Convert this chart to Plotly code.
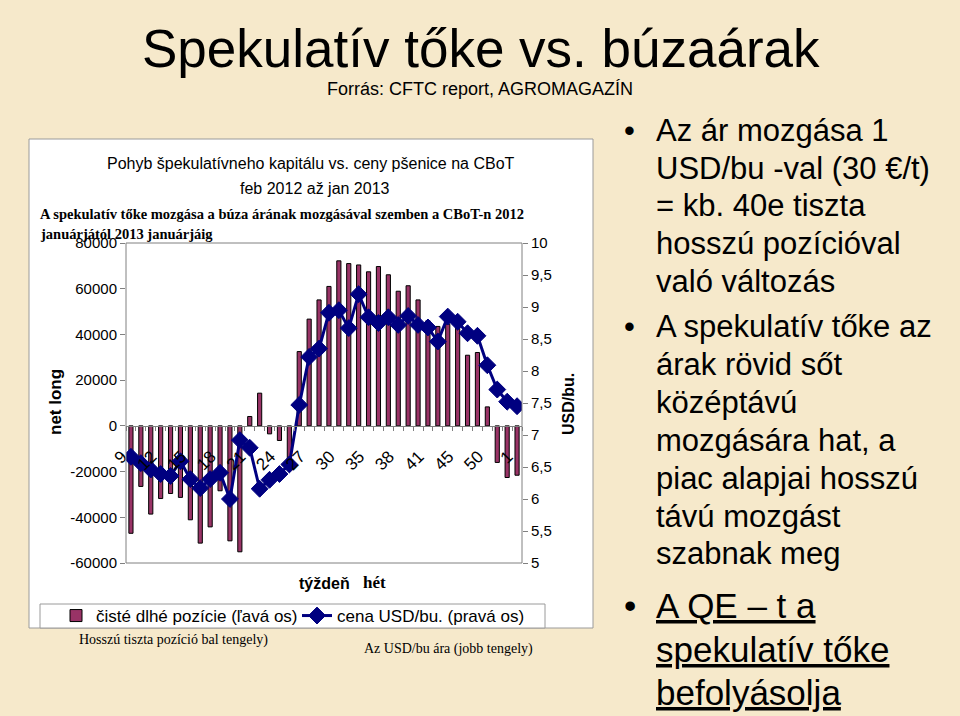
import plotly.graph_objects as go

# ---------------- data ----------------
weeks = ["9", "10", "11", "12", "13", "14", "15", "16", "17", "18", "19", "20",
         "21", "22", "23", "24", "25", "26", "27", "28", "29", "30", "32", "33",
         "35", "36", "37", "38", "39", "40", "41", "43", "44", "45", "48", "49",
         "50", "51", "52", "1"]
shown_week_labels = ["9", "12", "15", "18", "21", "24", "27", "30", "35", "38",
                     "41", "45", "50", "1"]
net_long = [-47000, -26500, -38600, -31800, -29600, -31300, -41100, -51300,
            -44200, -28400, -50300, -55100, 4100, 14300, -3500, -6400, -17000,
            32500, 46700, 55100, 61000, 72200, 71000, 70400, 67400, 69700,
            66100, 58900, 61300, 55100, 46000, 43500, 44500, 43000, 30900,
            32100, 8300, -16000, -22600, -21600]
price = [6.66, 6.56, 6.46, 6.39, 6.36, 6.59, 6.31, 6.17, 6.31, 6.41, 6.00,
         6.92, 6.80, 6.16, 6.30, 6.39, 6.54, 7.47, 8.22, 8.35, 8.91, 8.95,
         8.67, 9.20, 8.84, 8.75, 8.84, 8.72, 8.86, 8.72, 8.68, 8.46, 8.85,
         8.77, 8.59, 8.55, 8.09, 7.71, 7.52, 7.45]
left_ticks = [-60000, -40000, -20000, 0, 20000, 40000, 60000, 80000]
left_tick_text = ["-60000", "-40000", "-20000", "0", "20000", "40000", "60000", "80000"]
right_ticks = [5, 5.5, 6, 6.5, 7, 7.5, 8, 8.5, 9, 9.5, 10]
right_tick_text = ["5", "5,5", "6", "6,5", "7", "7,5", "8", "8,5", "9", "9,5", "10"]

bullets = [
    ["Az ár mozgása 1", "USD/bu -val (30 €/t)", "= kb. 40e tiszta",
     "hosszú pozícióval", "való változás"],
    ["A spekulatív tőke az", "árak rövid sőt", "középtávú",
     "mozgására hat, a", "piac alapjai hosszú", "távú mozgást", "szabnak meg"],
    ["A QE – t a", "spekulatív tőke", "befolyásolja"],
]

# ---------------- layout geometry ----------------
W, H = 960, 716
PL, PR, PT, PB = 126, 522, 243, 563   # plot area in pixels


def px(x):
    return (x - PL) / (PR - PL)


def py(y):
    return (PB - y) / (PB - PT)


SANS = "Liberation Sans, Arial, sans-serif"
SERIF = "Liberation Serif, Times New Roman, serif"

tickvals_x = weeks
ticktext_x = [w if w in shown_week_labels and i % 3 == 0 else "" for i, w in enumerate(weeks)]

fig = go.Figure()
fig.add_trace(go.Bar(
    x=weeks, y=net_long, name="čisté dlhé pozície (ľavá os)",
    marker=dict(color="#993366", line=dict(color="#000000", width=1)),
    yaxis="y",
))
fig.add_trace(go.Scatter(
    x=weeks, y=price, name="cena USD/bu. (pravá os)", mode="lines+markers",
    line=dict(color="#000080", width=3),
    marker=dict(symbol="diamond", size=13, color="#000080",
                line=dict(color="#000080", width=1)),
    yaxis="y2",
))

annotations = []


def add_text(text, x, y, size, font=SANS, xanchor="left", yanchor="middle",
             textangle=0, color="#000000"):
    annotations.append(dict(
        text=text, x=px(x), y=py(y), xref="paper", yref="paper",
        xanchor=xanchor, yanchor=yanchor, showarrow=False, textangle=textangle,
        font=dict(family=font, size=size, color=color),
    ))


# slide title
add_text("Spekulatív tőke vs. búzaárak", 481, 48, 53, xanchor="center")
add_text("Forrás: CFTC report, AGROMAGAZÍN", 480, 89, 18, xanchor="center")

# chart titles
add_text("Pohyb špekulatívneho kapitálu vs. ceny pšenice na CBoT", 311, 163, 16,
         xanchor="center")
add_text("feb 2012 až jan 2013", 315, 188, 16, xanchor="center")
add_text("<b>A spekulatív tőke mozgása a búza árának mozgásával szemben a CBoT-n 2012</b>",
         38, 214, 14.5, font=SERIF)
add_text("<b>januárjától 2013 januárjáig</b>", 38, 234, 14.5, font=SERIF)

# axis titles
add_text("<b>net long</b>", 55, 402, 17, xanchor="center", textangle=-90)
add_text("<b>USD/bu.</b>", 568, 404, 16, xanchor="center", textangle=-90)
add_text("<b>týždeň</b>", 297, 583, 16)
add_text("<b>hét</b>", 361, 582, 17, font=SERIF)

# notes below the chart
add_text("Hosszú tiszta pozíció bal tengely)", 77, 640, 14, font=SERIF)
add_text("Az USD/bu ára (jobb tengely)", 362, 649, 14, font=SERIF)

# right side bullets
line_y = [[130, 168, 206, 243, 281],
          [326, 364, 402, 440, 478, 516, 553],
          [605, 649, 692]]
for bi, lines in enumerate(bullets):
    big = bi == 2
    size = 35 if big else 31
    add_text("•", 622, line_y[bi][0], size)
    for li, t in enumerate(lines):
        txt = "<u>" + t + "</u>" if big else t
        add_text(txt, 654, line_y[bi][li], size)

shapes = [
    # white chart box
    dict(type="rect", xref="paper", yref="paper", x0=px(29), x1=px(593),
         y0=py(628), y1=py(139), fillcolor="#FFFFFF",
         line=dict(color="#9A9A9A", width=1), layer="below"),
    # legend box
    dict(type="rect", xref="paper", yref="paper", x0=px(40), x1=px(545),
         y0=py(628), y1=py(604), fillcolor="#FFFFFF",
         line=dict(color="#9A9A9A", width=1), layer="below"),
    # plot border
    dict(type="rect", xref="paper", yref="paper", x0=0, x1=1, y0=0, y1=1,
         line=dict(color="#808080", width=1), layer="above"),
]

fig.update_layout(
    width=W, height=H,
    margin=dict(l=PL, r=W - PR, t=PT, b=H - PB, pad=0),
    paper_bgcolor="#F6E9CB",
    plot_bgcolor="#C0C0C0",
    bargap=0.58,
    showlegend=True,
    legend=dict(orientation="h", x=px(56), y=py(616), xanchor="left",
                yanchor="middle", bgcolor="rgba(0,0,0,0)",
                font=dict(family=SANS, size=17, color="#000000"),
                entrywidth=196, entrywidthmode="pixels", traceorder="normal"),
    xaxis=dict(
        type="category", anchor="free", position=60000 / 140000,
        tickmode="array", tickvals=tickvals_x, ticktext=ticktext_x,
        tickangle=-45, tickson="boundaries", ticks="outside", ticklen=4,
        tickcolor="#808080", showline=True, linecolor="#808080", linewidth=1,
        showgrid=False, zeroline=False, ticklabelstandoff=13, ticklabelshift=-9,
        tickfont=dict(family=SANS, size=17, color="#000000"),
        range=[-0.5, len(weeks) - 0.5],
    ),
    yaxis=dict(
        range=[-60000, 80000], tickmode="array", tickvals=left_ticks,
        ticktext=left_tick_text, ticks="outside", ticklen=5, tickcolor="#808080",
        showgrid=False, zeroline=False, showline=False,
        tickfont=dict(family=SANS, size=15, color="#000000"),
    ),
    yaxis2=dict(
        range=[5, 10], overlaying="y", side="right", tickmode="array",
        tickvals=right_ticks, ticktext=right_tick_text, ticks="outside",
        ticklen=5, tickcolor="#808080", showgrid=False, zeroline=False,
        showline=False, tickfont=dict(family=SANS, size=15, color="#000000"),
    ),
    annotations=annotations,
    shapes=shapes,
)

fig.write_html("out.html")
